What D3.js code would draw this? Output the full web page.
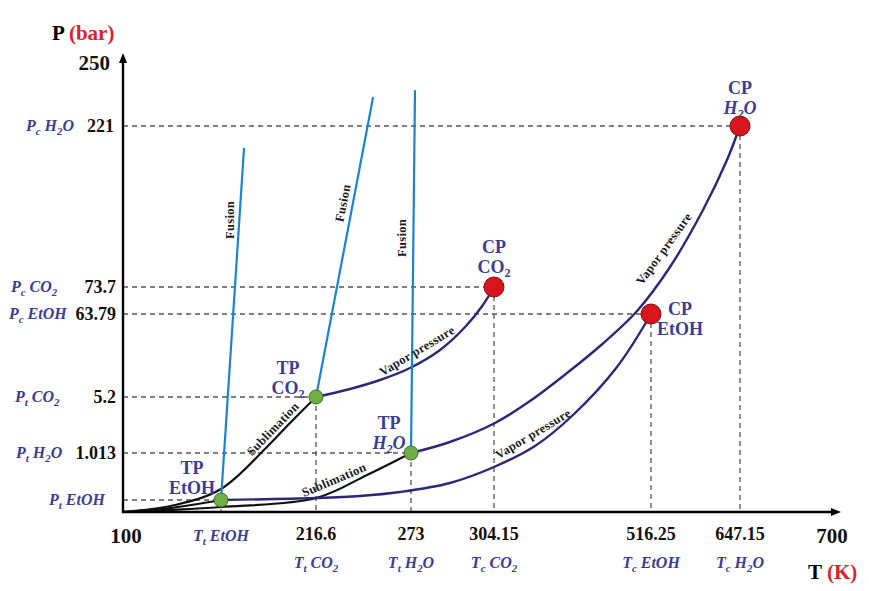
<!DOCTYPE html>
<html><head><meta charset="utf-8">
<script src="https://cdn.jsdelivr.net/npm/d3@7"></script>
<style>
html,body{margin:0;padding:0;background:#fff;}
svg{display:block;font-family:"Liberation Serif","Times New Roman",serif;}
</style></head><body>
<svg id="chart" width="869" height="591"></svg>
<script>
// Schematic axis breakpoints: temperature (K) and pressure (bar)
const tBreaks = [100, 150, 216.6, 273, 304.15, 516.25, 647.15, 700];
const pBreaks = [0, 4.3e-9, 1.013, 5.2, 63.79, 73.7, 221, 250];

// Numeric tick labels
const tTickLabels = ["100", "", "216.6", "273", "304.15", "516.25", "647.15", "700"];
const pTickLabels = ["", "", "1.013", "5.2", "63.79", "73.7", "221", "250"];

// Symbolic tick labels ("_x" marks a subscript character)
const tSymbols = [
  {T: 150, label: "T_t EtOH", row: 0},
  {T: 216.6, label: "T_t CO_2", row: 1},
  {T: 273, label: "T_t H_2O", row: 1},
  {T: 304.15, label: "T_c CO_2", row: 1},
  {T: 516.25, label: "T_c EtOH", row: 1},
  {T: 647.15, label: "T_c H_2O", row: 1}
];
const pSymbols = [
  {P: 4.3e-9, label: "P_t EtOH"},
  {P: 1.013, label: "P_t H_2O"},
  {P: 5.2, label: "P_t CO_2"},
  {P: 63.79, label: "P_c EtOH"},
  {P: 73.7, label: "P_c CO_2"},
  {P: 221, label: "P_c H_2O"}
];

// Triple points and critical points
const triplePoints = [
  {name: "EtOH", T: 150, P: 4.3e-9},
  {name: "CO_2", T: 216.6, P: 5.2},
  {name: "H_2O", T: 273, P: 1.013}
];
const criticalPoints = [
  {name: "CO_2", T: 304.15, P: 73.7},
  {name: "EtOH", T: 516.25, P: 63.79},
  {name: "H_2O", T: 647.15, P: 221}
];

// Sublimation curves [T, P]
const sublimationEtOH = [[100, 0], [124, 1.4e-9], [150, 4.3e-9]];
const sublimationCO2 = [[100, 0], [126.5, 2.5e-9], [150, 0.237], [182.2, 1.462], [198.4, 3.256], [216.6, 5.2]];
const sublimationH2O = [[100, 0], [124, 0.72e-9], [150, 1.79e-9], [216.6, 0.043], [246.9, 0.539], [273, 1.013]];

// Vapor pressure curves [T, P]
const vaporEtOH = [[150, 4.3e-9], [216.6, 0.043], [242.7, 0.086], [266.5, 0.172], [287.6, 0.366], [304.15, 0.711],
  [359.5, 1.536], [410.9, 3.854], [470.3, 26.4], [516.25, 63.79]];
const vaporCO2 = [[216.6, 5.2], [236.8, 10.85], [254.6, 17.2], [272.4, 25.7], [283.9, 38.4], [293.3, 54.6],
  [300.0, 67.1], [304.15, 73.7]];
const vaporH2O = [[273, 1.013], [287.6, 1.835], [305.5, 3.256], [352.8, 4.901], [402.8, 22.1], [447.4, 41.2],
  [497.4, 64.9], [544.2, 92.0], [592.7, 144.1], [628.0, 189.9], [647.15, 221]];

// Fusion lines [T, P]
const fusionEtOH = [[150, 4.3e-9], [166.1, 200]];
const fusionCO2 = [[216.6, 5.2], [250.4, 233.9]];
const fusionH2O = [[273, 1.013], [274.5, 237.1]];

const BLUE = "#3a3d96", NAVY = "#2c2877", FUSION = "#1c83d0", RED = "#e0202a";

const svg = d3.select("#chart");

// Piecewise-linear scales for the schematic axes
const x = d3.scaleLinear().domain(tBreaks).range([123, 221, 316, 411, 494, 651, 740, 832]);
const y = d3.scaleLinear().domain(pBreaks).range([512, 500, 453, 397, 314, 287, 126, 63]);
const x0 = x(tBreaks[0]), y0 = y(pBreaks[0]);

// Writes "A_b" style markup into a text element as tspans
function rich(sel, str, size) {
  const parts = [];
  for (let i = 0; i < str.length; i++) {
    if (str[i] === "_" && i + 1 < str.length) { parts.push({t: str[i + 1], sub: true}); i++; }
    else {
      if (parts.length && !parts[parts.length - 1].sub) parts[parts.length - 1].t += str[i];
      else parts.push({t: str[i], sub: false});
    }
  }
  let shifted = false;
  parts.forEach(p => {
    const ts = sel.append("tspan").text(p.t);
    if (p.sub) {
      ts.attr("font-size", size * 0.68).attr("dy", shifted ? 0 : size * 0.22);
      shifted = true;
    } else {
      if (shifted) ts.attr("dy", -size * 0.22);
      shifted = false;
    }
  });
  return sel;
}

// Dashed guides from each special point to both axes
const guide = svg.append("g").attr("stroke", "#555").attr("stroke-width", 1.3)
  .attr("stroke-dasharray", "5,4").attr("fill", "none");
triplePoints.concat(criticalPoints).forEach(d => {
  guide.append("line").attr("x1", x0).attr("x2", x(d.T)).attr("y1", y(d.P)).attr("y2", y(d.P));
  guide.append("line").attr("x1", x(d.T)).attr("x2", x(d.T)).attr("y1", y(d.P)).attr("y2", y0);
});

// Curves
const line = d3.line().x(d => x(d[0])).y(d => y(d[1])).curve(d3.curveCatmullRom.alpha(0.5));
const straight = d3.line().x(d => x(d[0])).y(d => y(d[1]));
const curves = svg.append("g").attr("fill", "none").attr("stroke-linecap", "round");
[sublimationEtOH, sublimationCO2, sublimationH2O].forEach(c =>
  curves.append("path").attr("d", line(c)).attr("stroke", "#111").attr("stroke-width", 2.2));
[vaporEtOH, vaporCO2, vaporH2O].forEach(c =>
  curves.append("path").attr("d", line(c)).attr("stroke", NAVY).attr("stroke-width", 2.4));
[fusionEtOH, fusionCO2, fusionH2O].forEach(c =>
  curves.append("path").attr("d", straight(c)).attr("stroke", FUSION).attr("stroke-width", 2.2));

// Axes with arrow heads
const ax = svg.append("g");
ax.append("line").attr("x1", x0).attr("y1", y0 + 1).attr("x2", x0).attr("y2", 60)
  .attr("stroke", "#000").attr("stroke-width", 2.4);
ax.append("line").attr("x1", x0 - 1).attr("y1", y0).attr("x2", 834).attr("y2", y0)
  .attr("stroke", "#000").attr("stroke-width", 2.4);
ax.append("path").attr("d", `M${x0 - 4},${63} L${x0},${53} L${x0 + 4},${63} Z`).attr("fill", "#000");
ax.append("path").attr("d", `M${831},${y0 - 4} L${841},${y0} L${831},${y0 + 4} Z`).attr("fill", "#000");

// Axis titles
const pt = svg.append("text").attr("x", 52).attr("y", 40).attr("font-size", 21).attr("font-weight", "bold");
pt.append("tspan").text("P ").attr("fill", "#000");
pt.append("tspan").text("(bar)").attr("fill", RED);
const tt = svg.append("text").attr("x", 808).attr("y", 579).attr("font-size", 21).attr("font-weight", "bold");
tt.append("tspan").text("T ").attr("fill", "#000");
tt.append("tspan").text("(K)").attr("fill", RED);

// Temperature tick labels
tBreaks.forEach((t, i) => {
  if (!tTickLabels[i]) return;
  const big = i === 0 || i === tBreaks.length - 1;
  svg.append("text").attr("x", x(t) + (i === 0 ? 3 : 0)).attr("y", big ? 543 : 540)
    .attr("text-anchor", "middle").attr("font-weight", "bold").attr("font-size", big ? 21 : 18)
    .attr("fill", "#111").text(tTickLabels[i]);
});
tSymbols.forEach(d => {
  const t = svg.append("text").attr("x", x(d.T)).attr("y", d.row === 0 ? 541 : 568)
    .attr("text-anchor", "middle").attr("font-weight", "bold").attr("font-style", "italic")
    .attr("font-size", 16).attr("fill", BLUE);
  rich(t, d.label, 16);
});

// Pressure tick labels
pBreaks.forEach((p, i) => {
  if (!pTickLabels[i]) return;
  const big = i === pBreaks.length - 1;
  svg.append("text").attr("x", big ? 110 : (p === 221 ? 114 : 116)).attr("y", y(p) + (big ? 7 : 6))
    .attr("text-anchor", "end").attr("font-weight", "bold").attr("font-size", big ? 21 : 18)
    .attr("fill", "#111").text(pTickLabels[i]);
});
const pSymbolLeft = {"P_t EtOH": 49, "P_t H_2O": 16, "P_t CO_2": 15, "P_c EtOH": 9, "P_c CO_2": 11, "P_c H_2O": 26};
pSymbols.forEach(d => {
  const t = svg.append("text").attr("x", pSymbolLeft[d.label]).attr("y", y(d.P) + 5)
    .attr("font-weight", "bold").attr("font-style", "italic")
    .attr("font-size", 16).attr("fill", BLUE);
  rich(t, d.label, 16);
});

// Curve annotations
const notes = [
  {text: "Fusion", pos: [230, 220], angle: -90},
  {text: "Fusion", pos: [343, 203], angle: -79},
  {text: "Fusion", pos: [402, 238], angle: -90},
  {text: "Sublimation", pos: [273, 429], angle: -46},
  {text: "Sublimation", pos: [334, 480], angle: -23},
  {text: "Vapor pressure", pos: [417, 351], angle: -31},
  {text: "Vapor pressure", pos: [533, 434], angle: -31},
  {text: "Vapor pressure", pos: [664, 249], angle: -54}
];
notes.forEach(n => {
  svg.append("text").attr("transform", `translate(${n.pos[0]},${n.pos[1]}) rotate(${n.angle})`)
    .attr("text-anchor", "middle").attr("dominant-baseline", "central")
    .attr("font-size", 12.5).attr("font-weight", "bold").attr("fill", "#1a1a1a")
    .attr("letter-spacing", 0.3).text(n.text);
});

// Point markers
svg.append("g").selectAll("circle").data(triplePoints).join("circle")
  .attr("cx", d => x(d.T)).attr("cy", d => y(d.P)).attr("r", 7)
  .attr("fill", "#6eae45").attr("stroke", "#3f6b2a").attr("stroke-width", 1);
svg.append("g").selectAll("circle").data(criticalPoints).join("circle")
  .attr("cx", d => x(d.T)).attr("cy", d => y(d.P)).attr("r", 10)
  .attr("fill", "#d9141c").attr("stroke", "#7a1010").attr("stroke-width", 1);

// Point labels: two lines, offset from the marker
const pointLabelOffsets = {
  "TP EtOH": [-29, -32], "TP CO_2": [-28, -29], "TP H_2O": [-22, -30],
  "CP CO_2": [0, -40], "CP EtOH": [29, -5], "CP H_2O": [0, -38]
};
function pointLabel(d, kind) {
  const off = pointLabelOffsets[kind + " " + d.name];
  const cx = x(d.T) + off[0], cy = y(d.P) + off[1];
  const italic = d.name === "H_2O";
  svg.append("text").attr("x", cx).attr("y", cy + 6).attr("text-anchor", "middle")
    .attr("font-weight", "bold").attr("font-size", 18).attr("fill", BLUE).text(kind);
  const t = svg.append("text").attr("x", cx).attr("y", cy + 26).attr("text-anchor", "middle")
    .attr("font-weight", "bold").attr("font-size", 18).attr("fill", BLUE)
    .attr("font-style", italic ? "italic" : "normal");
  rich(t, d.name, 18);
}
triplePoints.forEach(d => pointLabel(d, "TP"));
criticalPoints.forEach(d => pointLabel(d, "CP"));
</script>
</body></html>
